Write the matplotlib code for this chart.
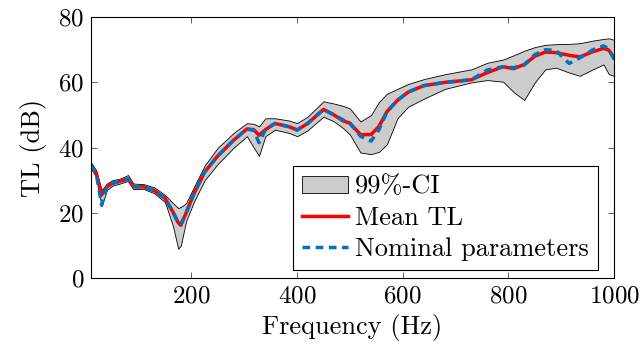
import matplotlib
matplotlib.use('Agg')
import matplotlib.pyplot as plt

# Computer Modern look (fonts shipped with matplotlib)
plt.rcParams['font.family'] = 'serif'
plt.rcParams['font.serif'] = ['cmr10']
plt.rcParams['mathtext.fontset'] = 'cm'
plt.rcParams['axes.formatter.use_mathtext'] = True

# Data
freq = [10, 20, 30, 40, 50, 65, 80, 90, 110, 130, 150, 165, 175, 180, 190, 205, 225, 250, 280,
        305, 318, 328, 340, 358, 385, 400, 420, 450, 470, 487, 500, 520, 540, 555, 570, 590, 610,
        640, 680, 730, 760, 790, 810, 830, 850, 870, 890, 915, 935, 960, 980, 990, 1000]
mean_tl = [34.5, 32, 25.5, 28, 29, 29.7, 30.4, 28, 28, 26.8, 24.5, 20.3, 17, 16.2, 20, 26, 32.5, 37.5, 42.3,
           45.7, 45.5, 43.8, 45.5, 47.4, 46.4, 45.4, 47.4, 51.7, 50, 48.2, 47.5, 44, 44, 46.5, 51, 54.5, 57,
           59, 60, 60.8, 63, 64.8, 64.2, 65.5, 68, 69.3, 69.1, 68.3, 67.8, 69.4, 70.4, 69.9, 67.5]
nominal_tl = [34.5, 32, 22.4, 28, 29, 29.7, 30.4, 28, 28, 26.8, 24.5, 20.3, 17, 16.5, 20, 26, 32.5, 37.5, 42.3,
              45.7, 45.3, 41.5, 45.5, 47.4, 46.4, 45.4, 47.4, 51.7, 50, 48.5, 47.5, 43.5, 42, 45.5, 51, 54.5, 57,
              59, 60, 60.8, 63.8, 64.8, 64.5, 65.3, 68.5, 70, 69.8, 65.8, 67.5, 70, 71.2, 70.2, 67]
ci_low = [33.5, 31, 22, 27, 28.3, 29, 29.8, 27.3, 27.3, 26, 23.3, 16, 9, 10, 17.5, 23.5, 30, 35, 40,
          43.5, 40, 37.5, 43.5, 45.5, 44.5, 43.5, 45.3, 49.5, 48, 46, 44, 38.5, 38, 38.7, 41, 49, 52.5,
          55, 58, 60, 60.7, 60.2, 57, 54.6, 60, 64, 64.5, 63, 62, 64, 65.5, 62.5, 62]
ci_high = [35.5, 33, 27, 29, 30, 30.5, 31.6, 29, 28.8, 27.8, 25.5, 23, 21.5, 21.8, 23, 28, 34.5, 40, 44.5,
           47.5, 47.3, 46.5, 49, 49, 48.3, 47.5, 49.5, 54.2, 53.5, 52.8, 52, 48, 50, 54, 56.5, 58, 59.5,
           61, 62.5, 64, 66, 67, 68.3, 69.7, 70.8, 71.5, 71.7, 71.8, 72, 72.8, 73.3, 73.5, 73]

fig = plt.figure(figsize=(6.41, 3.49), dpi=100)
ax = fig.add_axes([0.142, 0.203, 0.816, 0.748])

ax.fill_between(freq, ci_low, ci_high, facecolor='#cccccc', edgecolor='black',
                linewidth=0.6, label='99%-CI')
ax.plot(freq, mean_tl, color='red', linewidth=2.5, label='Mean TL')
ax.plot(freq, nominal_tl, color='#0072bd', linewidth=2.5, linestyle=(0, (2.2, 1.6)),
        label='Nominal parameters')

ax.set_xlim(10, 1000)
ax.set_ylim(0, 80)
ax.set_xticks([200, 400, 600, 800, 1000])
ax.set_yticks([0, 20, 40, 60, 80])
ax.tick_params(direction='in', top=True, right=True, length=4, width=0.6,
               labelsize=18, color='#444444', pad=5)
for s in ax.spines.values():
    s.set_linewidth(0.8)

ax.set_xlabel('Frequency (Hz)', fontsize=19, labelpad=5)
ax.set_ylabel('TL (dB)', fontsize=19, labelpad=8)

leg = ax.legend(loc='lower right', bbox_to_anchor=(0.969, 0.031), borderaxespad=0,
                fontsize=19, fancybox=False, edgecolor='black', framealpha=1,
                handlelength=1.75, handleheight=0.6, handletextpad=0.25,
                labelspacing=0.28, borderpad=0.35)
leg.get_frame().set_linewidth(0.8)

fig.savefig('out.png', dpi=100)
